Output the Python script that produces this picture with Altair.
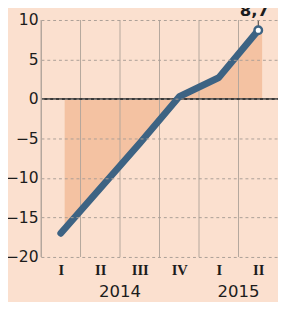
import altair as alt
import pandas as pd

quarters = ["I", "II", "III", "IV", "I", "II"]
values = [-17.0, -11.3, -5.6, 0.3, 2.7, 8.7]
years = ["2014", "2015"]
quarters_per_year = [4, 2]
y_ticks = [-20, -15, -10, -5, 0, 5, 10]
last_label = "8,7"

BG = "#fbe0cf"
AREA = "#f4c2a2"
LINE = "#3d6383"
GRID = "#b3a69c"
TEXT = "#1c1c1c"

pos = [i + 0.5 for i in range(len(quarters))]
df = pd.DataFrame({"pos": pos, "q": quarters, "v": values})
df_last = df.tail(1).assign(lab=last_label)
bounds = pd.DataFrame({"b": list(range(len(quarters)))})

centers, start = [], 0
for n in quarters_per_year:
    centers.append(start + n / 2)
    start += n
df_years = pd.DataFrame({"c": centers, "y": years})

label_expr = "[" + ",".join("'%s'" % q for q in quarters) + "][floor(datum.value)]"

xs = alt.Scale(domain=[0, len(quarters)], nice=False, zero=False)
ys = alt.Scale(domain=[-20, 10], nice=False, zero=False)

x_axis = alt.Axis(values=pos, labelExpr=label_expr, grid=False, domain=False, ticks=False,
                  labelFont="Liberation Serif", labelFontWeight="bold", labelFontSize=15,
                  labelColor=TEXT, labelPadding=6, title=None)
y_axis = alt.Axis(values=y_ticks, grid=True, gridDash=[3, 3], gridColor="#a99e96", gridWidth=1,
                  domain=True, domainColor=GRID, ticks=False, labelFont="DejaVu Sans",
                  labelFontSize=16, labelColor=TEXT, labelPadding=3, title=None, zindex=1)

base = alt.Chart(df)

area = base.mark_area(color=AREA, xOffset=4).encode(
    x=alt.X("pos:Q", scale=xs, axis=x_axis),
    y=alt.Y("v:Q", scale=ys, axis=y_axis),
    y2=alt.datum(0),
)
vgrid = alt.Chart(bounds).mark_rule(color=GRID, strokeWidth=1).encode(
    x=alt.X("b:Q", scale=xs)
)
zero = base.mark_rule(color="#3a3a3a", strokeWidth=2).encode(
    y=alt.datum(0), x=alt.value(0), x2=alt.value(244)
)
line = base.mark_line(color=LINE, strokeWidth=7, strokeCap="round", strokeJoin="round").encode(
    x=alt.X("pos:Q", scale=xs), y=alt.Y("v:Q", scale=ys)
)
tick = alt.Chart(df_last).mark_rule(color="#333333", strokeWidth=1).encode(
    x=alt.X("pos:Q", scale=xs), y=alt.Y("v:Q", scale=ys), y2=alt.value(0)
)
point = alt.Chart(df_last).mark_point(shape="circle", filled=True, fill="white", stroke=LINE,
                                      strokeWidth=2.5, size=60, opacity=1).encode(
    x=alt.X("pos:Q", scale=xs), y=alt.Y("v:Q", scale=ys)
)
lab = alt.Chart(df_last).mark_text(font="DejaVu Sans", fontSize=17, fontWeight="bold",
                                   color=TEXT, dy=-15, baseline="alphabetic", dx=-4).encode(
    x=alt.X("pos:Q", scale=xs), y=alt.Y("v:Q", scale=ys), text="lab:N"
)
yrs = alt.Chart(df_years).mark_text(font="DejaVu Sans", fontSize=17, color=TEXT,
                                    baseline="alphabetic").encode(
    x=alt.X("c:Q", scale=xs), y=alt.value(285), text="y:N"
)

chart = alt.layer(area, vgrid, zero, line, tick, point, lab, yrs).properties(
    width=244, height=244,
    autosize=alt.AutoSizeParams(type="none"),
    padding={"left": 34, "top": 8, "right": 0, "bottom": 42},
).configure(background=BG).configure_view(stroke=None)

chart.save("out.html", embed_options={"renderer": "svg", "actions": False})
